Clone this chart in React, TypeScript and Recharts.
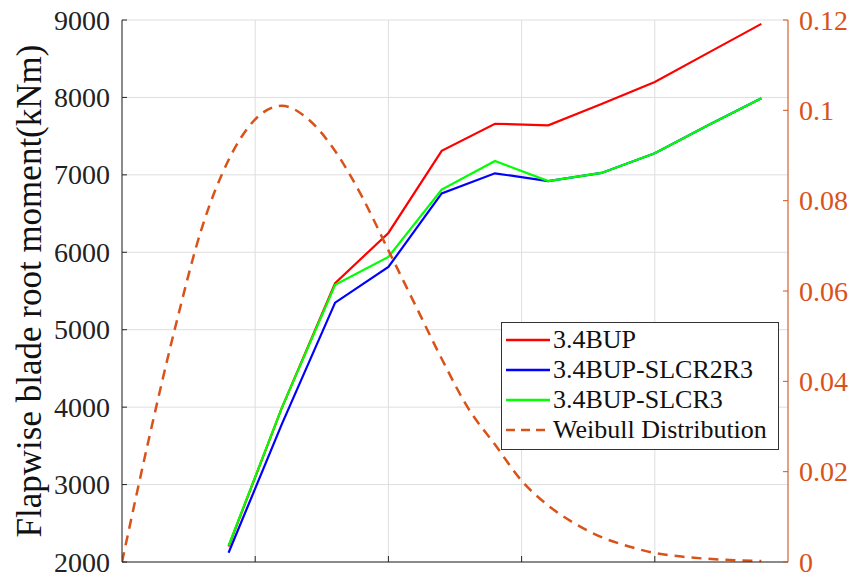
import React from 'react';
import { ComposedChart, Line, XAxis, YAxis, CartesianGrid, Legend } from 'recharts';

// wind speed (m/s) where the moments were computed
const windSpeeds = [4, 6, 8, 10, 12, 14, 16, 18, 20, 22, 24];
const moment34BUP = [2200, 3990, 5600, 6250, 7310, 7660, 7640, 7915, 8200, 8575, 8950];
const momentSLCR2R3 = [2120, 3780, 5350, 5810, 6760, 7020, 6920, 7025, 7280, 7640, 7990];
const momentSLCR3 = [2210, 3990, 5580, 5940, 6810, 7180, 6920, 7025, 7280, 7640, 7990];

// weibull pdf
const weibullX = [0, 1, 2, 3, 4, 5, 6, 7, 8, 9, 10, 11, 12, 13, 14, 15, 16, 17, 18, 19, 20, 21, 22, 23, 24];
const weibullPdf = [0, 0.027, 0.052, 0.074, 0.089, 0.098, 0.101, 0.098, 0.091, 0.081, 0.069, 0.057, 0.045, 0.034, 0.026, 0.018, 0.0125, 0.0085, 0.0055, 0.0035, 0.002, 0.0012, 0.0007, 0.0004, 0.0002];

const xTicks = [5, 10, 15, 20];
const leftTicks = [2000, 3000, 4000, 5000, 6000, 7000, 8000, 9000];
const rightTicks = [0, 0.02, 0.04, 0.06, 0.08, 0.1, 0.12];

const ORANGE = '#D95319';
const FONT = '"Liberation Serif", "Times New Roman", serif';

const toPoints = (xs: number[], ys: number[]) => xs.map((x, i) => ({ x, y: ys[i] }));

const series = [
  { name: '3.4BUP', color: '#FF0000', data: toPoints(windSpeeds, moment34BUP) },
  { name: '3.4BUP-SLCR2R3', color: '#0000FF', data: toPoints(windSpeeds, momentSLCR2R3) },
  { name: '3.4BUP-SLCR3', color: '#00FF00', data: toPoints(windSpeeds, momentSLCR3) },
];
const weibullData = toPoints(weibullX, weibullPdf);

const LeftTick = (props: any) => {
  const { x, y, payload } = props;
  return (
    <g>
      <line x1={x + 12} x2={x + 17} y1={y} y2={y} stroke="#262626" strokeWidth={1} />
      <text x={x} y={y} dy="0.34em" textAnchor="end" style={{ fontFamily: FONT, fontSize: 28, fill: '#222' }}>
        {payload.value}
      </text>
    </g>
  );
};

const RightTick = (props: any) => {
  const { x, y, payload } = props;
  return (
    <g>
      <line x1={x - 11} x2={x - 16} y1={y} y2={y} stroke={ORANGE} strokeWidth={1} />
      <text x={x} y={y} dy="0.34em" textAnchor="start" style={{ fontFamily: FONT, fontSize: 28, fill: ORANGE }}>
        {String(payload.value)}
      </text>
    </g>
  );
};

const BottomTick = (props: any) => {
  const { x, y } = props;
  return <line x1={x} x2={x} y1={y} y2={y - 6} stroke="#262626" strokeWidth={1} />;
};

const TopTick = (props: any) => {
  const { x, y } = props;
  return <line x1={x} x2={x} y1={y} y2={y + 6} stroke="#262626" strokeWidth={1} />;
};

const YTitle = () => (
  <text
    x={29}
    y={291}
    transform="rotate(-90 29 291)"
    textAnchor="middle"
    dominantBaseline="central"
    style={{ fontFamily: FONT, fontSize: 35, fill: '#111' }}
  >
    Flapwise blade root moment(kNm)
  </text>
);

const LegendBox = () => {
  const rows = [
    ...series.map(s => ({ name: s.name, color: s.color, dashed: false })),
    { name: 'Weibull Distribution', color: ORANGE, dashed: true },
  ];
  return (
    <div
      style={{
        border: '1px solid #333',
        background: '#fff',
        padding: '2px 0 4px 4px',
        width: 278,
        boxSizing: 'border-box',
        fontFamily: FONT,
        fontSize: 26,
        color: '#111',
      }}
    >
      {rows.map(r => (
        <div key={r.name} style={{ display: 'flex', alignItems: 'center', height: 30 }}>
          <svg width={44} height={10} style={{ marginRight: 3 }}>
            <line
              x1={0}
              x2={44}
              y1={5}
              y2={5}
              stroke={r.color}
              strokeWidth={2.5}
              strokeDasharray={r.dashed ? '9 6' : undefined}
            />
          </svg>
          <span style={{ whiteSpace: 'nowrap' }}>{r.name}</span>
        </div>
      ))}
    </div>
  );
};

export default function App() {
  return (
    <div style={{ position: 'absolute', left: 0, top: 0, background: '#fff' }}>
      <ComposedChart width={859} height={577} margin={{ top: 20, right: 0, bottom: 0, left: 0 }}>
        <CartesianGrid yAxisId="left" stroke="#dedede" strokeWidth={1} />
        <XAxis
          xAxisId={0}
          type="number"
          dataKey="x"
          domain={[0, 25]}
          ticks={xTicks}
          height={15}
          stroke="#262626"
          tickLine={false}
          tickSize={0}
          tickMargin={0}
          tick={<BottomTick />}
          allowDataOverflow
        />
        <XAxis
          xAxisId="top"
          orientation="top"
          type="number"
          dataKey="x"
          domain={[0, 25]}
          ticks={xTicks}
          height={0}
          stroke="#262626"
          tickLine={false}
          tickSize={0}
          tickMargin={0}
          tick={<TopTick />}
        />
        <YAxis
          yAxisId="left"
          orientation="left"
          type="number"
          domain={[2000, 9000]}
          ticks={leftTicks}
          width={122}
          stroke="#262626"
          tickLine={false}
          tickSize={0}
          tickMargin={12}
          tick={<LeftTick />}
          label={<YTitle />}
          allowDataOverflow
        />
        <YAxis
          yAxisId="right"
          orientation="right"
          type="number"
          domain={[0, 0.12]}
          ticks={rightTicks}
          width={71}
          stroke={ORANGE}
          tickLine={false}
          tickSize={0}
          tickMargin={11}
          tick={<RightTick />}
          allowDataOverflow
        />
        <Legend
          layout="horizontal"
          verticalAlign="middle"
          align="center"
          content={<LegendBox />}
          wrapperStyle={{ position: 'absolute', left: 501, top: 322, width: 278, height: 124 }}
        />
        {series.map(s => (
          <Line
            key={s.name}
            name={s.name}
            yAxisId="left"
            data={s.data}
            dataKey="y"
            type="linear"
            stroke={s.color}
            strokeWidth={2.2}
            dot={false}
            activeDot={false}
            isAnimationActive={false}
          />
        ))}
        <Line
          name="Weibull Distribution"
          yAxisId="right"
          data={weibullData}
          dataKey="y"
          type="monotone"
          stroke={ORANGE}
          strokeWidth={2.5}
          strokeDasharray="10 7"
          dot={false}
          activeDot={false}
          isAnimationActive={false}
        />
      </ComposedChart>
    </div>
  );
}
